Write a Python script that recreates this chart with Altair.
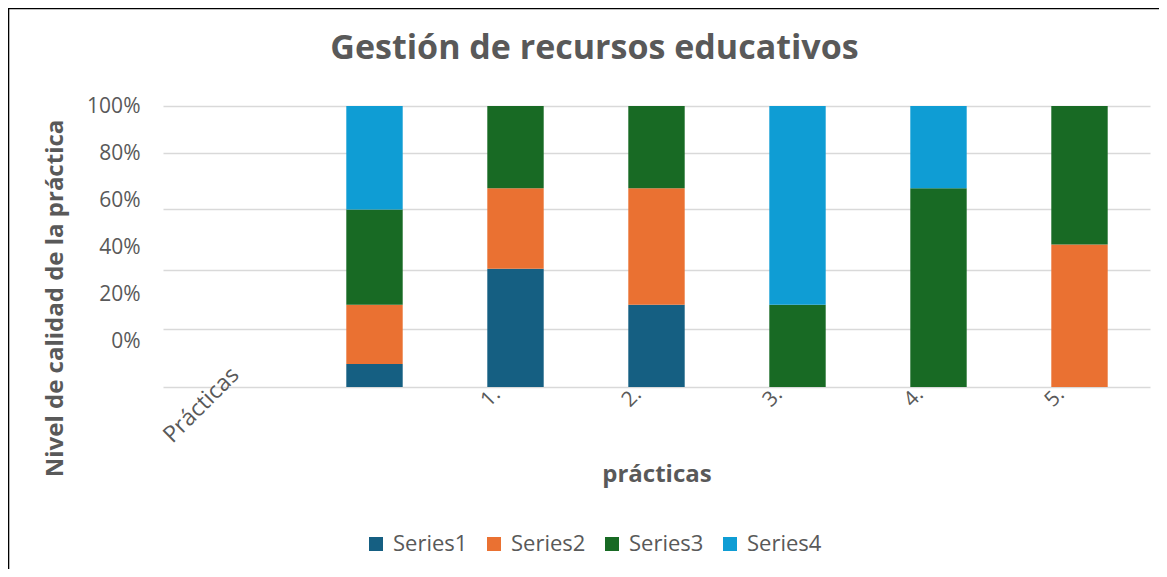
import altair as alt
import pandas as pd

categories = ["Prácticas", " ", "1.", "2.", "3.", "4.", "5."]
series_names = ["Series1", "Series2", "Series3", "Series4"]
series1 = [0, 8.2, 42.1, 29.3, 0, 0, 0]
series2 = [0, 21.1, 28.6, 41.4, 0, 0, 50.7]
series3 = [0, 33.9, 29.3, 29.3, 29.3, 70.7, 49.3]
series4 = [0, 36.8, 0, 0, 70.7, 29.3, 0]
colors = ["#155F82", "#EA7132", "#186A24", "#0F9DD4"]

grid_values = [0, 0.207, 0.418, 0.632, 0.832, 1.0]
label_values = [0, 0.2, 0.4, 0.6, 0.8, 1.0]
label_domain = [-0.1907, 1.0]

GRAY = "#595959"
FONT = "Open Sans"

rows = []
for name, vals in zip(series_names, [series1, series2, series3, series4]):
    for c, v in zip(categories, vals):
        if v > 0:
            rows.append({"cat": c, "series": name, "value": v, "order": series_names.index(name)})
df = pd.DataFrame(rows)
labels_df = pd.DataFrame({"v": label_values})

is_first = "datum.value == 'Prácticas'"

bars = alt.Chart(df).mark_bar().encode(
    x=alt.X("cat:N", sort=categories,
            scale=alt.Scale(domain=categories, paddingInner=0.6, paddingOuter=0.3),
            axis=alt.Axis(labelAngle=-45, labelColor=GRAY, labelFont=FONT,
                          labelFontSize={"condition": {"test": is_first, "value": 23}, "value": 21},
                          labelOffset={"condition": {"test": is_first, "value": -6}, "value": -26},
                          labelPadding={"condition": {"test": is_first, "value": -24}, "value": -4},
                          domain=False, ticks=False,
                          title="prácticas", titleFont=FONT, titleFontSize=24,
                          titleFontWeight="bold", titleColor=GRAY, titleY=94,
                          titleBaseline="alphabetic")),
    y=alt.Y("value:Q", stack="normalize",
            scale=alt.Scale(domain=[0, 1], nice=False),
            axis=alt.Axis(values=grid_values, labels=False, ticks=False, domain=False,
                          title=None, grid=True, gridColor="#D9D9D9", gridWidth=1.3)),
    color=alt.Color("series:N", scale=alt.Scale(domain=series_names, range=colors),
                    legend=alt.Legend(orient="none", legendX=202, legendY=427,
                                      direction="horizontal", title=None,
                                      symbolType="square", symbolSize=196,
                                      symbolStrokeWidth=0, labelFontSize=22,
                                      labelFont=FONT, labelColor=GRAY,
                                      columnPadding=15, labelOffset=6)),
    order=alt.Order("order:Q"),
)

label_axis = alt.Chart(labels_df).mark_point(opacity=0).encode(
    y=alt.Y("v:Q", scale=alt.Scale(domain=label_domain, nice=False, zero=False),
            axis=alt.Axis(values=label_values, format=".0%", orient="left", grid=False,
                          ticks=False, domain=False, labelFontSize=21, labelFont=FONT,
                          labelColor=GRAY, labelPadding=23,
                          title="Nivel de calidad de la práctica", titleFont=FONT,
                          titleFontSize=24, titleFontWeight="bold", titleColor=GRAY,
                          titleX=-96, titleY=192, titleAlign="center",
                          titleBaseline="bottom", titleAngle=-90)),
)

border_df = pd.DataFrame({"a": [0]})
top_border = alt.Chart(border_df).mark_rule(color="black", strokeWidth=2).encode(
    x=alt.value(-155), x2=alt.value(996), y=alt.value(-97.7))
left_border = alt.Chart(border_df).mark_rule(color="black", strokeWidth=2).encode(
    x=alt.value(-154.7), y=alt.value(-98), y2=alt.value(463))

chart = alt.layer(bars, label_axis, top_border, left_border).resolve_scale(
    y="independent"
).properties(
    width=987, height=281,
    autosize=alt.AutoSizeParams(type="none"),
    padding={"left": 155, "top": 98, "right": 9, "bottom": 182},
    title=alt.TitleParams("Gestión de recursos educativos", fontSize=34, font=FONT,
                          fontWeight="bold", color=GRAY, anchor="middle", frame="group",
                          dx=-62, offset=0, dy=86, baseline="alphabetic"),
    background="white",
).configure_view(stroke=None)

chart.save("out.html", embed_options={"renderer": "svg", "actions": False})
